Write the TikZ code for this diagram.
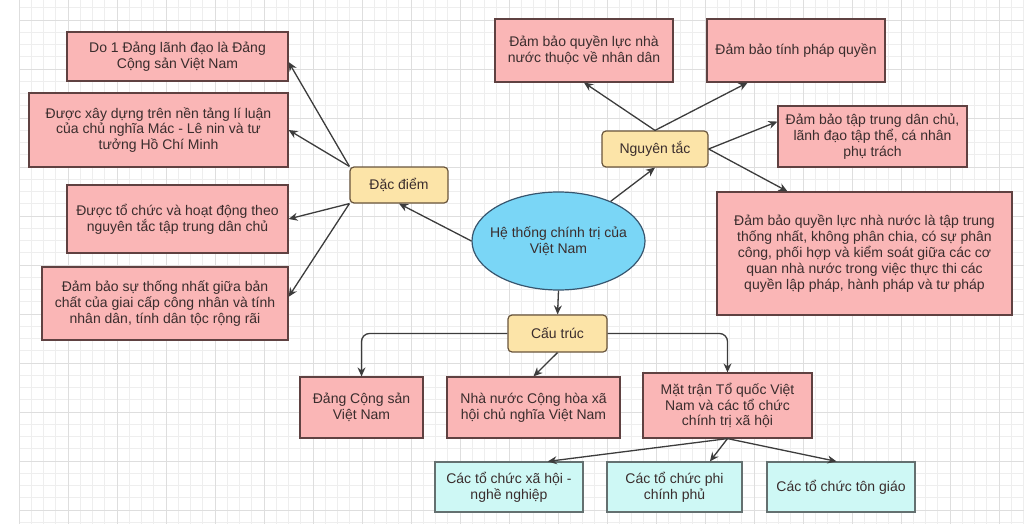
\documentclass[tikz,border=0pt]{standalone}
\usepackage{fontspec}
\setmainfont{Liberation Sans}
\usepackage{xcolor}
\usepackage{tikz}
\usetikzlibrary{shapes, arrows.meta, positioning, calc}
\definecolor{boxpink}{RGB}{250,182,182}
\definecolor{pinkline}{RGB}{95,65,65}
\definecolor{boxgold}{RGB}{252,228,168}
\definecolor{goldline}{RGB}{105,85,60}
\definecolor{hubblue}{RGB}{122,214,246}
\definecolor{hubline}{RGB}{55,85,110}
\definecolor{boxcyan}{RGB}{206,248,245}
\definecolor{cyanline}{RGB}{100,112,112}
\definecolor{inkgray}{RGB}{58,45,45}
\definecolor{wireline}{RGB}{60,60,60}
\definecolor{gridfaint}{RGB}{238,238,238}
\definecolor{gridmajor}{RGB}{222,222,222}
\tikzset{
  card/.style={draw, line width=1.2pt, align=center, text=inkgray,
    font=\fontsize{14}{15.8}\selectfont, inner sep=2pt},
  pinkcard/.style={card, fill=boxpink, draw=pinkline},
  cyancard/.style={card, fill=boxcyan, draw=cyanline},
  topic/.style={card, fill=boxgold, draw=goldline, rounded corners=4pt},
  hub/.style={card, ellipse, fill=hubblue, draw=hubline, inner xsep=-20pt, inner ysep=0pt},
  link/.style={draw=wireline, line width=1.3pt, -{Stealth[length=9pt,width=8pt]}},
}

\begin{document}
\begin{tikzpicture}[x=1pt, y=-1pt]
  \useasboundingbox (0,0) rectangle (1024,524);
  % grid paper
  \foreach \i in {0,...,82}
    \draw[gridfaint, line width=0.6pt] ({19+12.25*\i},0) -- ({19+12.25*\i},524);
  \foreach \j in {-1,...,41}
    \draw[gridfaint, line width=0.6pt] (19,{20+12.25*\j}) -- (1024,{20+12.25*\j});
  \foreach \i in {0,...,20}
    \draw[gridmajor, line width=0.8pt] ({19+49*\i},0) -- ({19+49*\i},524);
  \foreach \j in {0,...,10}
    \draw[gridmajor, line width=0.8pt] (19,{20+49*\j}) -- (1024,{20+49*\j});

  % centre
  \node[hub, minimum width=173, minimum height=98] (ell) at (558.5,241) {Hệ thống chính trị của\\Việt Nam};
  \node[topic, minimum width=98, minimum height=36] (dd) at (399,185) {Đặc điểm};
  \node[topic, minimum width=106, minimum height=36] (nt) at (655,149) {Nguyên tắc};
  \node[topic, minimum width=99, minimum height=37] (ct) at (557.5,333.5) {Cấu trúc};

  % dac diem
  \node[pinkcard, minimum width=221, minimum height=49] (l1) at (177.5,56.5) {Do 1 Đảng lãnh đạo là Đảng\\Cộng sản Việt Nam};
  \node[pinkcard, minimum width=259, minimum height=74] (l2) at (158.5,130) {Được xây dựng trên nền tảng lí luận\\của chủ nghĩa Mác - Lê nin và tư\\tưởng Hồ Chí Minh};
  \node[pinkcard, minimum width=221, minimum height=68] (l3) at (177.5,219) {Được tổ chức và hoạt động theo\\nguyên tắc tập trung dân chủ};
  \node[pinkcard, minimum width=246, minimum height=73] (l4) at (165,303.5) {Đảm bảo sự thống nhất giữa bản\\chất của giai cấp công nhân và tính\\nhân dân, tính dân tộc rộng rãi};

  % nguyen tac
  \node[pinkcard, minimum width=178, minimum height=63] (r1) at (584,50.5) {Đảm bảo quyền lực nhà\\nước thuộc về nhân dân};
  \node[pinkcard, minimum width=178, minimum height=63] (r2) at (796,50.5) {Đảm bảo tính pháp quyền};
  \node[pinkcard, minimum width=189, minimum height=61] (r3) at (872.5,136.5) {Đảm bảo tập trung dân chủ,\\lãnh đạo tập thể, cá nhân\\phụ trách};
  \node[pinkcard, minimum width=295, minimum height=123] (r4) at (864.5,253.5) {Đảm bảo quyền lực nhà nước là tập trung\\thống nhất, không phân chia, có sự phân\\công, phối hợp và kiểm soát giữa các cơ\\quan nhà nước trong việc thực thi các\\quyền lập pháp, hành pháp và tư pháp};

  % cau truc
  \node[pinkcard, minimum width=123, minimum height=61] (b1) at (361.5,407.5) {Đảng Cộng sản\\Việt Nam};
  \node[pinkcard, minimum width=173, minimum height=61] (b2) at (533.5,407.5) {Nhà nước Cộng hòa xã\\hội chủ nghĩa Việt Nam};
  \node[pinkcard, minimum width=169, minimum height=65] (b3) at (727.5,405.5) {Mặt trận Tổ quốc Việt\\Nam và các tổ chức\\chính trị xã hội};
  \node[cyancard, minimum width=148, minimum height=50] (c1) at (509,487) {Các tổ chức xã hội -\\nghề nghiệp};
  \node[cyancard, minimum width=135, minimum height=50] (c2) at (674.5,487) {Các tổ chức phi\\chính phủ};
  \node[cyancard, minimum width=148, minimum height=50] (c3) at (841,487) {Các tổ chức tôn giáo};

  % links
  \draw[link] (ell.west) -- (dd.south);
  \draw[link] (ell) -- (nt.south);
  \draw[link] (ell.south) -- (ct.north);
  \draw[link] (dd.north west) -- ($(l1.north east)!0.61!(l1.south east)$);
  \draw[link] (dd.north west) -- (l2.east);
  \draw[link] (dd.south west) -- (l3.east);
  \draw[link] (dd.south west) -- ($(l4.north east)!0.41!(l4.south east)$);
  \draw[link] (nt.north) -- (r1.south);
  \draw[link] (nt.north) -- ($(r2.south west)!0.23!(r2.south east)$);
  \draw[link] (nt.east) -- ($(r3.north west)!0.26!(r3.south west)$);
  \draw[link] (nt.east) -- ($(r4.north west)!0.24!(r4.north east)$);
  \draw[link, rounded corners=8pt] (ct.west) -| (b1.north);
  \draw[link, rounded corners=8pt] (ct.east) -| (b3.north);
  \draw[link] (ct.south) -- (b2.north);
  \draw[link] (b3.south) -- ($(c1.north west)!0.76!(c1.north east)$);
  \draw[link] (b3.south) -- ($(c2.north west)!0.76!(c2.north east)$);
  \draw[link] (b3.south) -- ($(c3.north west)!0.47!(c3.north east)$);
\end{tikzpicture}
\end{document}
